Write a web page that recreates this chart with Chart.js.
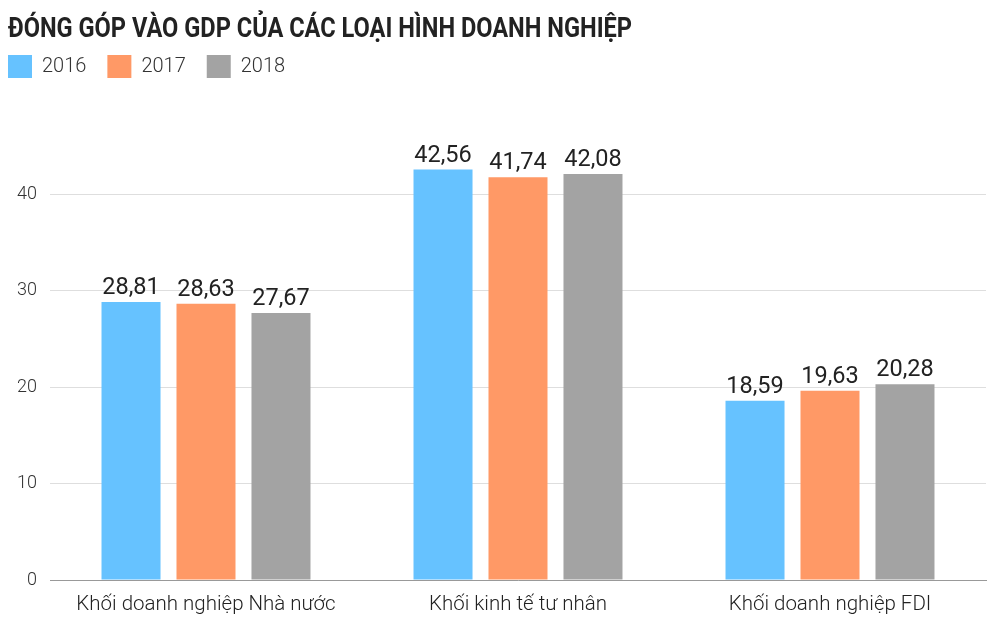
<!DOCTYPE html>
<html>
<head>
<meta charset="utf-8">
<script src="https://cdn.jsdelivr.net/npm/chart.js@4"></script>
<style>
  html, body { margin: 0; padding: 0; background: #fff; }
  #wrap { width: 1000px; height: 628px; }
</style>
</head>
<body>
<div id="wrap"><canvas id="gdpChart"></canvas></div>
<script>
const chartTitle = 'ĐÓNG GÓP VÀO GDP CỦA CÁC LOẠI HÌNH DOANH NGHIỆP';
const categories = ['Khối doanh nghiệp Nhà nước', 'Khối kinh tế tư nhân', 'Khối doanh nghiệp FDI'];
const years = ['2016', '2017', '2018'];
const values2016 = [28.81, 42.56, 18.59];
const values2017 = [28.63, 41.74, 19.63];
const values2018 = [27.67, 42.08, 20.28];
const yTicks = [0, 10, 20, 30, 40];
const colors = ['#66c2ff', '#ff9966', '#a3a3a3'];

// tiêu đề kiểu chữ hẹp: vẽ chữ đậm rồi ép ngang
const tieuDe = {
    id: 'tieuDe',
    afterDraw(chart) {
        const ctx = chart.ctx;
        ctx.save();
        ctx.font = '700 28px Roboto, "DejaVu Sans", sans-serif';
        ctx.fillStyle = '#222';
        ctx.textBaseline = 'alphabetic';
        const w = ctx.measureText(chartTitle).width;
        const sx = 624 / w;
        ctx.translate(8, 37);
        ctx.scale(sx, 1);
        ctx.fillText(chartTitle, 0, 0);
        ctx.restore();
    },
    afterLayout(chart) {
        // lề trái của chú giải sát mép như bản gốc
        if (chart.legend) chart.legend.left = 8 - chart.legend.options.labels.padding;
    }
};

// ghi giá trị lên đầu mỗi cột
const nhanCot = {
    id: 'nhanCot',
    afterDatasetsDraw(chart) {
        const ctx = chart.ctx;
        ctx.save();
        ctx.font = '400 23.5px Roboto, "Noto Sans", sans-serif';
        ctx.fillStyle = '#222';
        ctx.textAlign = 'center';
        ctx.textBaseline = 'bottom';
        chart.data.datasets.forEach((ds, i) => {
            chart.getDatasetMeta(i).data.forEach((bar, j) => {
                const txt = ds.data[j].toFixed(2).replace('.', ',');
                ctx.fillText(txt, bar.x, bar.y - 2);
            });
        });
        ctx.restore();
    }
};

const ctx = document.getElementById('gdpChart').getContext('2d');
new Chart(ctx, {
    type: 'bar',
    data: {
        labels: categories,
        datasets: [values2016, values2017, values2018].map((v, i) => ({
            label: years[i],
            data: v,
            backgroundColor: colors[i],
            borderWidth: 0,
            categoryPercentage: 0.721,
            barPercentage: 0.787
        }))
    },
    options: {
        responsive: true,
        maintainAspectRatio: false,
        animation: false,
        layout: { padding: { left: 8, right: 14, top: 34, bottom: 0 } },
        plugins: {
            title: { display: false },
            legend: {
                display: true,
                align: 'start',
                labels: {
                    boxWidth: 24,
                    boxHeight: 23,
                    padding: 21,
                    color: '#333',
                    font: { family: 'Roboto, sans-serif', size: 20, weight: '300' }
                }
            },
            tooltip: { enabled: false }
        },
        scales: {
            x: {
                grid: { display: false, drawTicks: false },
                border: { color: '#999', width: 1 },
                ticks: {
                    color: '#222',
                    padding: 13,
                    font: { family: 'Roboto, sans-serif', size: 20.5, weight: '300' }
                },
                afterFit: (axis) => { axis.height = 48; }
            },
            y: {
                min: 0,
                max: 51,
                afterBuildTicks: (axis) => { axis.ticks = yTicks.map(v => ({ value: v })); },
                grid: { color: '#dedede', drawTicks: false },
                border: { display: false },
                ticks: {
                    color: '#333',
                    padding: 13,
                    font: { family: 'Roboto, sans-serif', size: 18, weight: '300' }
                },
                afterFit: (axis) => { axis.width = 42; }
            }
        }
    },
    plugins: [tieuDe, nhanCot]
});
</script>
</body>
</html>
